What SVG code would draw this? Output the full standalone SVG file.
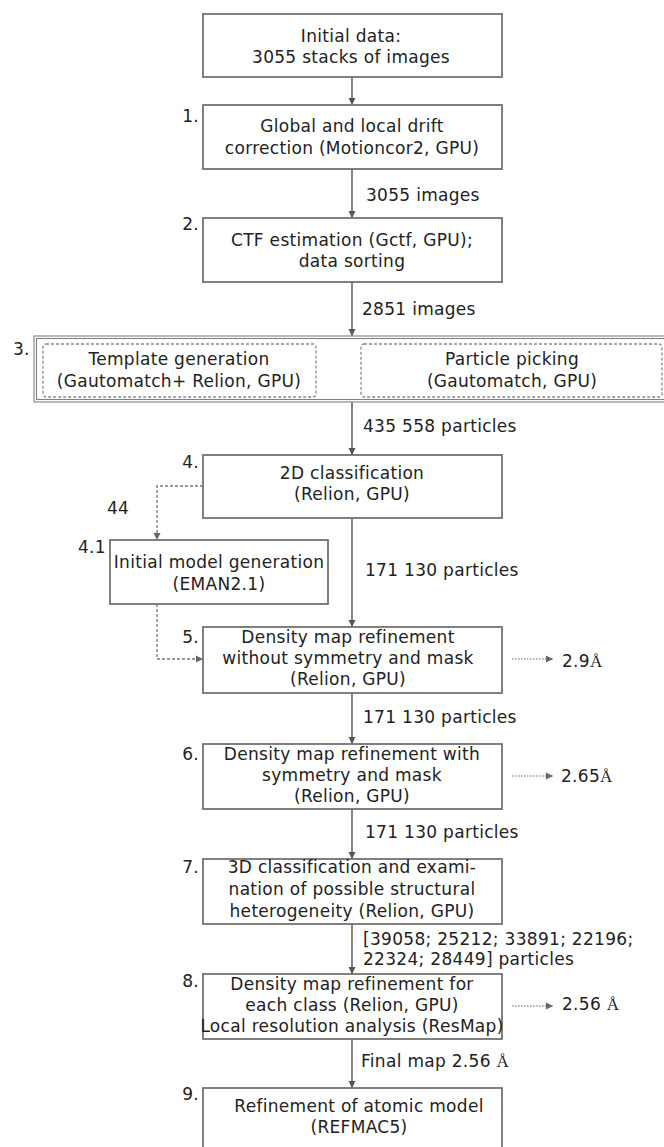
<svg xmlns="http://www.w3.org/2000/svg" width="664" height="1147" viewBox="0 0 664 1147">
<style>
text{font-family:"DejaVu Sans","Liberation Sans",sans-serif;font-size:17px;fill:#222;letter-spacing:0.3px}
.c{text-anchor:middle}
.n{text-anchor:end}
.box{fill:#fff;stroke:#737373;stroke-width:1.8}
.fr{fill:none;stroke:#808080;stroke-width:1.1}
.dbox{fill:none;stroke:#8a8a8a;stroke-width:1.3;stroke-dasharray:3 2}
.ln{fill:none;stroke:#666;stroke-width:1.6}
.dl{fill:none;stroke:#777;stroke-width:1.3;stroke-dasharray:3 2}
.dot{fill:none;stroke:#999;stroke-width:1.3;stroke-dasharray:1.5 1.5}
.a{font-family:"Liberation Serif","DejaVu Serif",serif}
</style>
<defs>
<marker id="ah" markerWidth="8" markerHeight="8" refX="7" refY="4" orient="auto" markerUnits="userSpaceOnUse">
<path d="M0,0.5 L7,4 L0,7.5 Z" fill="#555"/>
</marker>
<marker id="ahl" markerWidth="8" markerHeight="8" refX="7" refY="4" orient="auto" markerUnits="userSpaceOnUse">
<path d="M0,0.5 L7,4 L0,7.5 Z" fill="#666"/>
</marker>
</defs>
<rect width="664" height="1147" fill="#fff"/>
<g id="connectors">
<line class="ln" x1="352" y1="77" x2="352" y2="105" marker-end="url(#ah)"/>
<line class="ln" x1="352" y1="169" x2="352" y2="218" marker-end="url(#ah)"/>
<line class="ln" x1="352" y1="282" x2="352" y2="336" marker-end="url(#ah)"/>
<line class="ln" x1="352" y1="402" x2="352" y2="455" marker-end="url(#ah)"/>
<line class="ln" x1="352" y1="518" x2="352" y2="627" marker-end="url(#ah)"/>
<line class="ln" x1="352" y1="693" x2="352" y2="744" marker-end="url(#ah)"/>
<line class="ln" x1="352" y1="809" x2="352" y2="859" marker-end="url(#ah)"/>
<line class="ln" x1="352" y1="924" x2="352" y2="974" marker-end="url(#ah)"/>
<line class="ln" x1="352" y1="1039" x2="352" y2="1088" marker-end="url(#ah)"/>
<polyline class="dl" points="203,486 157,486 157,540" marker-end="url(#ahl)"/>
<polyline class="dl" points="157,604 157,659 203,659" marker-end="url(#ahl)"/>
<line class="dl" x1="316" y1="369" x2="361" y2="369" marker-end="url(#ahl)"/>
<line class="dot" x1="512" y1="659" x2="553" y2="659" marker-end="url(#ahl)"/>
<line class="dot" x1="512" y1="776" x2="553" y2="776" marker-end="url(#ahl)"/>
<line class="dot" x1="512" y1="1006" x2="553" y2="1006" marker-end="url(#ahl)"/>
<text x="366" y="201">3055 images</text>
<text x="362" y="315">2851 images</text>
<text x="363" y="432">435 558 particles</text>
<text x="107" y="514">44</text>
<text x="365" y="576">171 130 particles</text>
<text x="363" y="723">171 130 particles</text>
<text x="365" y="838">171 130 particles</text>
<text x="363" y="945">[39058; 25212; 33891; 22196;</text>
<text x="363" y="965">22324; 28449] particles</text>
<text x="361" y="1067">Final map 2.56 <tspan class="a">Å</tspan></text>
<text x="562" y="667">2.9<tspan class="a">Å</tspan></text>
<text x="561" y="782">2.65<tspan class="a">Å</tspan></text>
<text x="562" y="1010">2.56 <tspan class="a">Å</tspan></text>
</g>
<g id="node0">
<rect class="box" x="203" y="14" width="299" height="63"/>
<text class="c" x="351" y="42">Initial data:</text>
<text class="c" x="351" y="63">3055 stacks of images</text>
</g>
<g id="node1">
<rect class="box" x="203" y="105" width="299" height="64"/>
<text class="n" x="199" y="122">1.</text>
<text class="c" x="352" y="132">Global and local drift</text>
<text class="c" x="352" y="154">correction (Motioncor2, GPU)</text>
</g>
<g id="node2">
<rect class="box" x="203" y="218" width="299" height="64"/>
<text class="n" x="199" y="230">2.</text>
<text class="c" x="352" y="246">CTF estimation (Gctf, GPU);</text>
<text class="c" x="352" y="267">data sorting</text>
</g>
<g id="node3">
<rect x="34" y="336" width="640" height="66" fill="#fff"/>
<rect class="fr" x="34" y="336" width="640" height="66"/>
<rect class="fr" x="36.5" y="338.5" width="640" height="61"/>
<text x="13" y="355">3.</text>
<rect class="dbox" x="43" y="344" width="273" height="53" rx="3"/>
<text class="c" x="179" y="365">Template generation</text>
<text class="c" x="179" y="387">(Gautomatch+ Relion, GPU)</text>
<rect class="dbox" x="361" y="344" width="301" height="53" rx="3"/>
<text class="c" x="512" y="365">Particle picking</text>
<text class="c" x="512" y="387">(Gautomatch, GPU)</text>
</g>
<g id="node4">
<rect class="box" x="203" y="455" width="299" height="63"/>
<text class="n" x="199" y="468">4.</text>
<text class="c" x="352" y="479">2D classification</text>
<text class="c" x="352" y="500">(Relion, GPU)</text>
</g>
<g id="node4_1">
<rect class="box" x="110" y="540" width="218" height="64"/>
<text x="78" y="553">4.1</text>
<text class="c" x="219" y="568">Initial model generation</text>
<text class="c" x="219" y="590">(EMAN2.1)</text>
</g>
<g id="node5">
<rect class="box" x="203" y="627" width="299" height="66"/>
<text class="n" x="199" y="643">5.</text>
<text class="c" x="348" y="643">Density map refinement</text>
<text class="c" x="348" y="664">without symmetry and mask</text>
<text class="c" x="348" y="685">(Relion, GPU)</text>
</g>
<g id="node6">
<rect class="box" x="203" y="744" width="299" height="65"/>
<text class="n" x="199" y="760">6.</text>
<text class="c" x="352" y="760">Density map refinement with</text>
<text class="c" x="352" y="781">symmetry and mask</text>
<text class="c" x="352" y="802">(Relion, GPU)</text>
</g>
<g id="node7">
<rect class="box" x="203" y="859" width="299" height="65"/>
<text class="n" x="199" y="873">7.</text>
<text class="c" x="352" y="873">3D classification and exami-</text>
<text class="c" x="352" y="895">nation of possible structural</text>
<text class="c" x="352" y="917">heterogeneity (Relion, GPU)</text>
</g>
<g id="node8">
<rect class="box" x="203" y="974" width="299" height="65"/>
<text class="n" x="199" y="987">8.</text>
<text class="c" x="352" y="990">Density map refinement for</text>
<text class="c" x="352" y="1011">each class (Relion, GPU)</text>
<text class="c" x="352" y="1032">Local resolution analysis (ResMap)</text>
</g>
<g id="node9">
<rect class="box" x="203" y="1088" width="299" height="80"/>
<text class="n" x="199" y="1100">9.</text>
<text class="c" x="359" y="1112">Refinement of atomic model</text>
<text class="c" x="359" y="1133">(REFMAC5)</text>
</g>
</svg>
